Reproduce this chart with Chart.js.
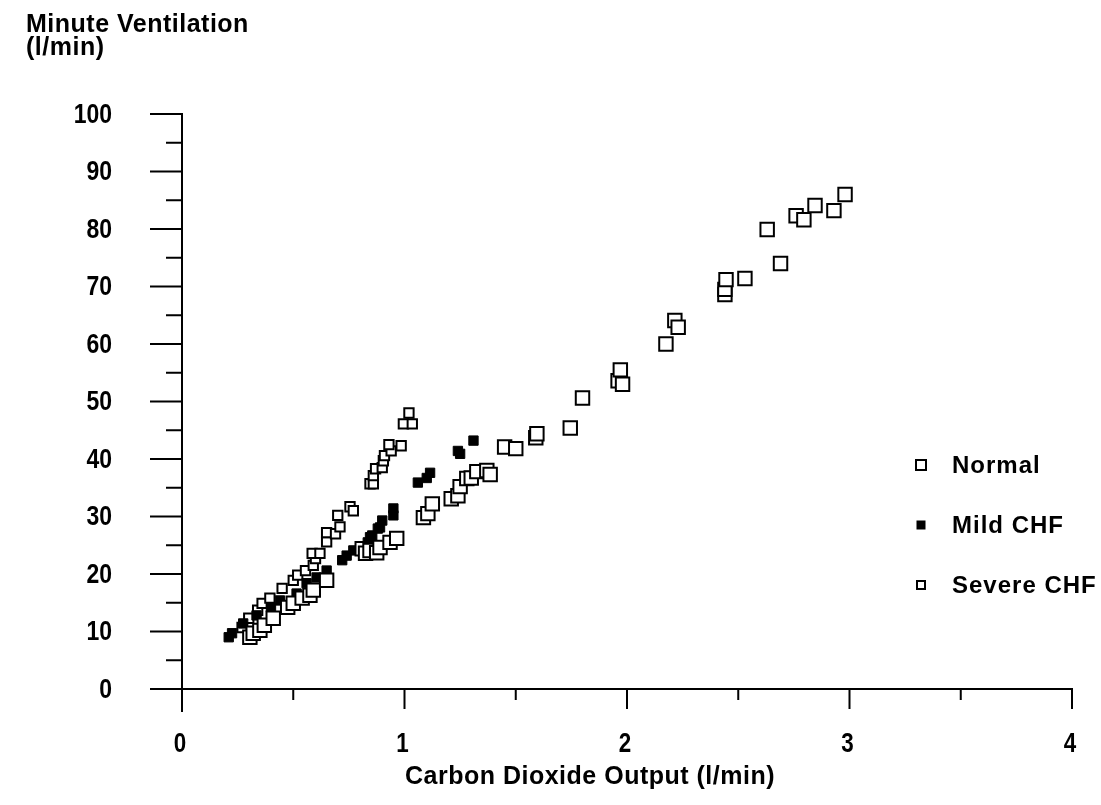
<!DOCTYPE html>
<html>
<head>
<meta charset="utf-8">
<script src="https://cdn.jsdelivr.net/npm/chart.js@4/dist/chart.umd.min.js"></script>
<style>
  html, body { margin: 0; padding: 0; background: #fff; }
  #grafico { display: block; }
</style>
</head>
<body>
<canvas id="grafico" width="1101" height="805"></canvas>
<script>
// VCO2 (l/min) vs VE (l/min) for each group
var normalX = [0.305, 0.32, 0.35, 0.37, 0.41, 0.475, 0.50, 0.54, 0.575, 0.59, 0.65, 0.81, 0.825, 0.845, 0.875, 0.89, 0.935, 0.965, 1.085, 1.105, 1.125, 1.21, 1.24, 1.25, 1.28, 1.30, 1.325, 1.37, 1.385, 1.45, 1.50, 1.59, 1.595, 1.745, 1.80, 1.96, 1.97, 1.98, 2.175, 2.215, 2.23, 2.44, 2.44, 2.445, 2.53, 2.63, 2.69, 2.76, 2.795, 2.845, 2.93, 2.98];
var normalY = [9.0, 9.7, 10.2, 11.1, 12.3, 14.2, 14.9, 15.8, 16.3, 17.2, 18.9, 24.4, 23.6, 24.1, 23.7, 24.6, 25.5, 26.2, 29.8, 30.5, 32.2, 33.1, 33.6, 35.2, 36.6, 36.7, 37.8, 38.0, 37.3, 42.1, 41.8, 43.7, 44.4, 45.4, 50.6, 53.6, 55.5, 53.0, 60.0, 64.1, 62.9, 68.6, 69.5, 71.2, 71.4, 79.9, 74.0, 82.3, 81.6, 84.1, 83.2, 86.0];

var mildX = [0.21, 0.225, 0.275, 0.335, 0.40, 0.44, 0.515, 0.56, 0.605, 0.65, 0.72, 0.74, 0.77, 0.835, 0.845, 0.855, 0.88, 0.89, 0.90, 0.95, 0.95, 1.06, 1.10, 1.115, 1.24, 1.25, 1.31];
var mildY = [9.0, 9.7, 11.4, 12.8, 14.2, 15.4, 16.6, 18.4, 19.4, 20.6, 22.4, 23.2, 24.1, 25.5, 26.4, 26.7, 27.9, 28.1, 29.3, 30.2, 31.4, 35.9, 36.7, 37.6, 41.4, 40.9, 43.2];

var severeX = [0.27, 0.30, 0.34, 0.36, 0.395, 0.45, 0.50, 0.52, 0.555, 0.59, 0.60, 0.585, 0.62, 0.65, 0.65, 0.69, 0.71, 0.70, 0.755, 0.77, 0.845, 0.86, 0.86, 0.87, 0.90, 0.905, 0.91, 0.94, 0.93, 0.985, 0.995, 1.035, 1.02];
var severeY = [10.7, 12.3, 13.7, 14.9, 15.8, 17.5, 18.9, 19.8, 20.6, 21.5, 22.7, 23.6, 23.6, 25.6, 27.2, 27.0, 28.2, 30.2, 31.7, 31.0, 35.7, 35.7, 37.1, 38.3, 38.5, 39.7, 40.6, 41.4, 42.5, 42.3, 46.1, 46.1, 48.0];

var xTicks = [0, 1, 2, 3, 4];
var yTicks = [0, 10, 20, 30, 40, 50, 60, 70, 80, 90, 100];
var seriesNames = ["Normal", "Mild CHF", "Severe CHF"];

var FUENTE = '"Liberation Sans", Arial, sans-serif';

function puntos(xs, ys) {
  var res = [];
  for (var i = 0; i < xs.length; i++) {
    res.push({ x: xs[i], y: ys[i] });
  }
  return res;
}

// narrow digits like the old plotter font
function textoAngosto(ctx, texto, x, y, escala) {
  ctx.save();
  ctx.translate(x, y);
  ctx.scale(escala, 1);
  ctx.fillText(texto, 0, 0);
  ctx.restore();
}

function marcador(ctx, estilo, cx, cy) {
  ctx.save();
  ctx.lineWidth = 2;
  ctx.strokeStyle = "#000";
  if (estilo === "lleno") {
    ctx.fillStyle = "#000";
    ctx.fillRect(cx - 4.5, cy - 4.5, 9, 9);
  } else {
    var s = estilo === "grande" ? 10 : 8;
    ctx.fillStyle = "#fff";
    ctx.fillRect(cx - s / 2, cy - s / 2, s, s);
    ctx.strokeRect(cx - s / 2, cy - s / 2, s, s);
  }
  ctx.restore();
}

// axes drawn through the origin, with long and short ticks
var ejesPlugin = {
  id: "ejes",
  afterDraw: function (chart) {
    var ctx = chart.ctx;
    var sx = chart.scales.x;
    var sy = chart.scales.y;
    var x0 = sx.getPixelForValue(0);
    var y0 = sy.getPixelForValue(0);
    var xMax = sx.getPixelForValue(4);
    var yMax = sy.getPixelForValue(100);

    ctx.save();
    ctx.strokeStyle = "#000";
    ctx.lineWidth = 2;
    ctx.lineCap = "square";

    ctx.beginPath();
    ctx.moveTo(x0 - 31, y0);
    ctx.lineTo(xMax, y0);
    ctx.moveTo(x0, yMax);
    ctx.lineTo(x0, y0 + 22);
    ctx.stroke();

    // y ticks every 5
    ctx.beginPath();
    for (var v = 0; v <= 100; v += 5) {
      var py = sy.getPixelForValue(v);
      var largo = v % 10 === 0 ? 31 : 15;
      ctx.moveTo(x0 - largo, py);
      ctx.lineTo(x0, py);
    }
    // x ticks every 0.5
    for (var u = 0; u <= 4; u += 0.5) {
      var px = sx.getPixelForValue(u);
      var largoX = u % 1 === 0 ? 19 : 10;
      ctx.moveTo(px, y0);
      ctx.lineTo(px, y0 + largoX);
    }
    ctx.stroke();

    ctx.fillStyle = "#000";
    ctx.font = "bold 28px " + FUENTE;
    ctx.textAlign = "right";
    ctx.textBaseline = "middle";
    yTicks.forEach(function (t) {
      textoAngosto(ctx, String(t), x0 - 70, sy.getPixelForValue(t) + 1, 0.82);
    });

    ctx.textAlign = "center";
    xTicks.forEach(function (t) {
      textoAngosto(ctx, String(t), sx.getPixelForValue(t) - 2, y0 + 55, 0.8);
    });

    // axis titles
    ctx.font = "bold 25px " + FUENTE;
    ctx.textAlign = "left";
    ctx.textBaseline = "alphabetic";
    ctx.letterSpacing = "0.5px";
    ctx.fillText("Minute Ventilation", 26, 32);
    ctx.fillText("(l/min)", 26, 55);
    ctx.fillText("Carbon Dioxide Output (l/min)", 405, 784);

    // legend
    var estilos = ["grande", "lleno", "chico"];
    var filas = [465, 525, 585];
    ctx.font = "bold 24px " + FUENTE;
    ctx.letterSpacing = "1px";
    ctx.textBaseline = "middle";
    for (var i = 0; i < seriesNames.length; i++) {
      marcador(ctx, estilos[i], 921, filas[i]);
      ctx.fillText(seriesNames[i], 952, filas[i] + 1);
    }
    ctx.restore();
  },
};

var ctx = document.getElementById("grafico").getContext("2d");
new Chart(ctx, {
  type: "scatter",
  data: {
    datasets: [
      {
        label: seriesNames[0],
        data: puntos(normalX, normalY),
        pointStyle: "rect",
        pointRadius: 9.5,
        backgroundColor: "#fff",
        borderColor: "#000",
        borderWidth: 2,
      },
      {
        label: seriesNames[1],
        data: puntos(mildX, mildY),
        pointStyle: "rect",
        pointRadius: 6.6,
        backgroundColor: "#000",
        borderColor: "#000",
        borderWidth: 1,
      },
      {
        label: seriesNames[2],
        data: puntos(severeX, severeY),
        pointStyle: "rect",
        pointRadius: 6.6,
        backgroundColor: "#fff",
        borderColor: "#000",
        borderWidth: 2,
      },
    ],
  },
  options: {
    responsive: false,
    animation: false,
    events: [],
    clip: false,
    layout: {
      padding: { left: 182, right: 29, top: 114, bottom: 116 },
    },
    plugins: {
      legend: { display: false },
      tooltip: { enabled: false },
    },
    scales: {
      x: { type: "linear", min: 0, max: 4, display: false },
      y: { type: "linear", min: 0, max: 100, display: false },
    },
  },
  plugins: [ejesPlugin],
});
</script>
</body>
</html>
